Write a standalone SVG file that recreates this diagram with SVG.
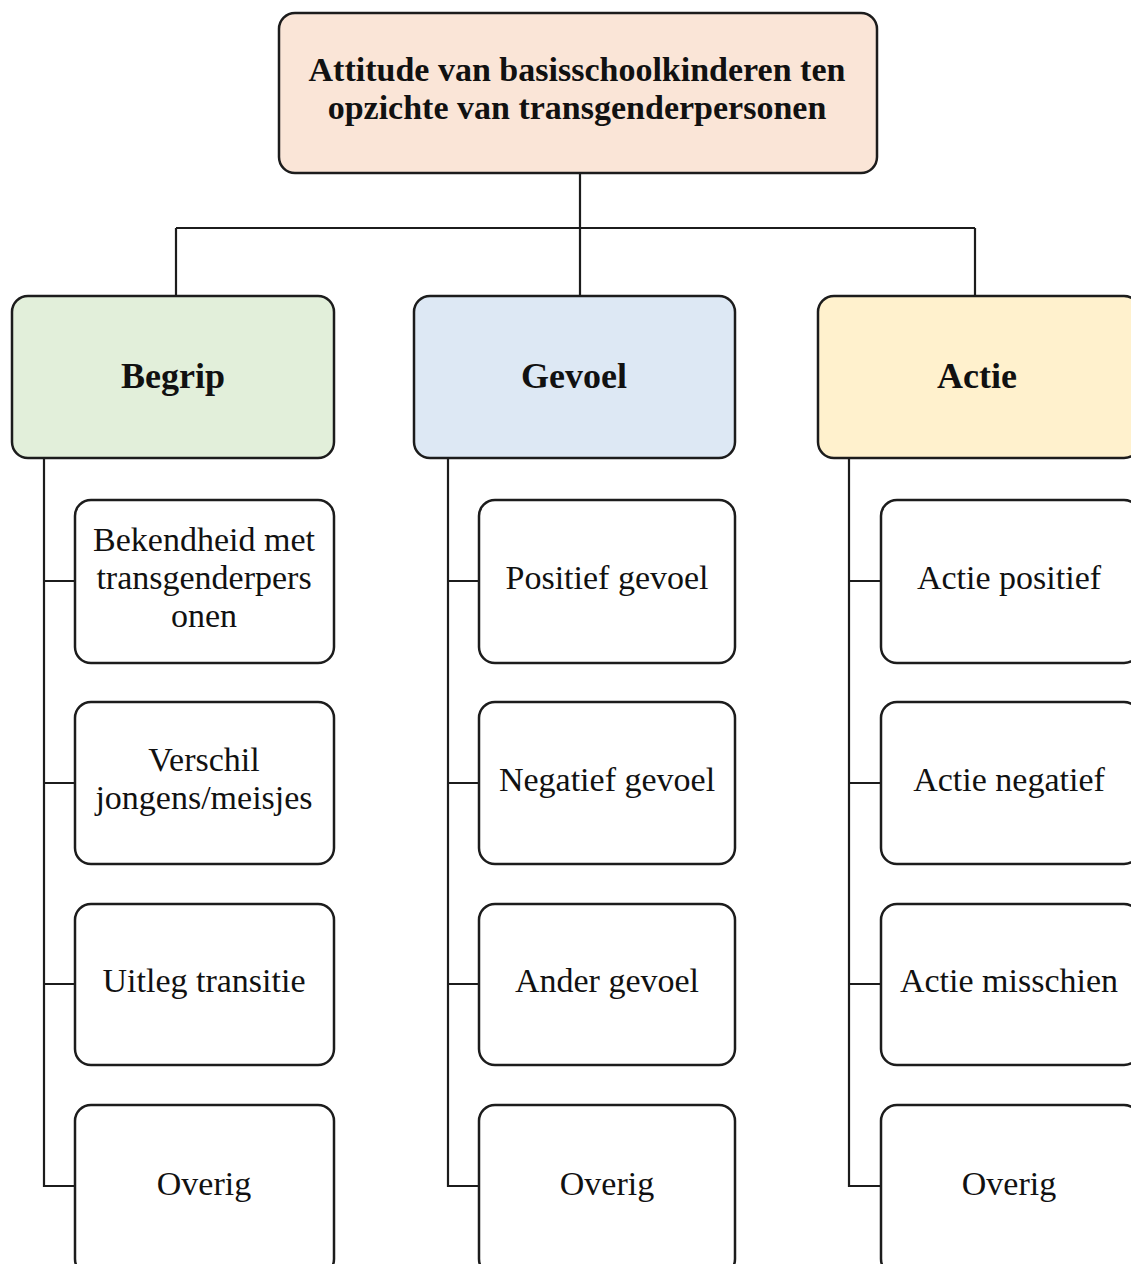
<svg xmlns="http://www.w3.org/2000/svg" width="1131" height="1264" viewBox="0 0 1131 1264">
<style>
rect{stroke:#1c1c1c;stroke-width:2.5}
.sub{fill:#ffffff}
text{font-family:"Liberation Serif","Times New Roman",serif;font-size:34px;fill:#111;text-anchor:middle}
.b{font-weight:bold}
.k{font-size:36px}
.c{fill:none;stroke:#1c1c1c;stroke-width:2.2}
</style>
<rect width="1131" height="1264" fill="#ffffff" style="stroke:none"/>
<g id="connectors" class="c">
<path d="M580 173V228M176 228H975M176 228V296M580 228V296M975 228V296"/>
<path d="M44 458V1186H75M44 581H75M44 783H75M44 984H75"/>
<path d="M448 458V1186H479M448 581H479M448 783H479M448 984H479"/>
<path d="M849 458V1186H881M849 581H881M849 783H881M849 984H881"/>
</g>
<g id="root"><rect x="279" y="13" width="598" height="160" rx="16" fill="#fae5d7"/><text class="b" x="577" y="81">Attitude van basisschoolkinderen ten</text><text class="b" x="577" y="119">opzichte van transgenderpersonen</text></g>
<g id="begrip"><rect x="12" y="296" width="322" height="162" rx="16" fill="#e2efda"/><text class="b k" x="173" y="388">Begrip</text></g>
<g id="gevoel"><rect x="414" y="296" width="321" height="162" rx="16" fill="#dde8f4"/><text class="b k" x="574" y="388">Gevoel</text></g>
<g id="actie"><rect x="818" y="296" width="322" height="162" rx="16" fill="#fff1cd"/><text class="b k" x="977" y="388">Actie</text></g>
<g id="b1"><rect class="sub" x="75" y="500" width="259" height="163" rx="16"/><text x="204" y="551">Bekendheid met</text><text x="204" y="589">transgenderpers</text><text x="204" y="627">onen</text></g>
<g id="b2"><rect class="sub" x="75" y="702" width="259" height="162" rx="16"/><text x="204" y="771">Verschil</text><text x="204" y="809">jongens/meisjes</text></g>
<g id="b3"><rect class="sub" x="75" y="904" width="259" height="161" rx="16"/><text x="204" y="992">Uitleg transitie</text></g>
<g id="b4"><rect class="sub" x="75" y="1105" width="259" height="170" rx="16"/><text x="204" y="1195">Overig</text></g>
<g id="g1"><rect class="sub" x="479" y="500" width="256" height="163" rx="16"/><text x="607" y="589">Positief gevoel</text></g>
<g id="g2"><rect class="sub" x="479" y="702" width="256" height="162" rx="16"/><text x="607" y="791">Negatief gevoel</text></g>
<g id="g3"><rect class="sub" x="479" y="904" width="256" height="161" rx="16"/><text x="607" y="992">Ander gevoel</text></g>
<g id="g4"><rect class="sub" x="479" y="1105" width="256" height="170" rx="16"/><text x="607" y="1195">Overig</text></g>
<g id="a1"><rect class="sub" x="881" y="500" width="259" height="163" rx="16"/><text x="1009" y="589">Actie positief</text></g>
<g id="a2"><rect class="sub" x="881" y="702" width="259" height="162" rx="16"/><text x="1009" y="791">Actie negatief</text></g>
<g id="a3"><rect class="sub" x="881" y="904" width="259" height="161" rx="16"/><text x="1009" y="992">Actie misschien</text></g>
<g id="a4"><rect class="sub" x="881" y="1105" width="259" height="170" rx="16"/><text x="1009" y="1195">Overig</text></g>
</svg>
